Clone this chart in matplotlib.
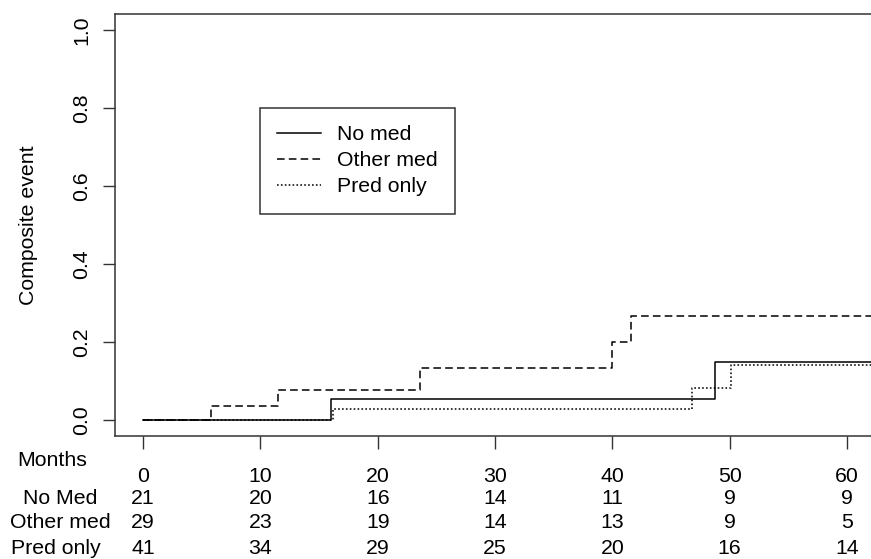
import numpy as np
import matplotlib; matplotlib.use('Agg')
import matplotlib.pyplot as plt
import matplotlib.transforms as mtransforms

plt.rcParams['font.family'] = ['Liberation Sans', 'DejaVu Sans']
plt.rcParams['lines.scale_dashes'] = False

# step curves (months, cumulative incidence)
nomed_t = [0, 16.0, 48.8, 65]
nomed_y = [0.0, 0.054, 0.149, 0.149]
other_t = [0, 5.8, 11.5, 23.6, 40.0, 41.6, 65]
other_y = [0.0, 0.036, 0.079, 0.133, 0.200, 0.267, 0.267]
pred_t = [0, 16.2, 46.8, 50.1, 65]
pred_y = [0.0, 0.030, 0.084, 0.141, 0.141]

# numbers at risk
risk_times = [0, 10, 20, 30, 40, 50, 60]
risk_nomed = [21, 20, 16, 14, 11, 9, 9]
risk_other = [29, 23, 19, 14, 13, 9, 5]
risk_pred = [41, 34, 29, 25, 20, 16, 14]

W, H = 871, 559
fig = plt.figure(figsize=(W/100, H/100), dpi=100)
ax = fig.add_axes([115/W, 123/H, 760/W, 421.6/H])
fs = 15.3
lw = 1.1
ax.step(nomed_t, nomed_y, where='post', color='black', lw=lw, ls='-', label='No med')
ax.step(other_t, other_y, where='post', color='black', lw=lw, ls=(0, (5.5, 3)), label='Other med')
ax.step(pred_t, pred_y, where='post', color='black', lw=lw, ls=(0, (1.2, 1.6)), label='Pred only')
ax.set_xlim(-2.4, 62.4)
ax.set_ylim(-0.04, 1.04)
ax.set_yticks([0, 0.2, 0.4, 0.6, 0.8, 1.0])
ax.set_yticklabels(['0.0', '0.2', '0.4', '0.6', '0.8', '1.0'])
ax.set_xticks(risk_times)
ax.set_xticklabels([])
ax.tick_params(axis='both', direction='out', length=9, width=1.0, labelsize=fs, color='#333333')
ax.tick_params(axis='y', labelrotation=90, pad=8)
for lab in ax.get_yticklabels():
    lab.set_va('center')
for s in ax.spines.values():
    s.set_linewidth(1.1)
    s.set_color('#333333')
ax.set_ylabel('Composite event', fontsize=fs)
ax.yaxis.set_label_coords(-(115-38)/760, 0.5)

leg = ax.legend(loc='upper left', bbox_to_anchor=((260-115)/760, (436-108)/421.6),
                frameon=True, fancybox=False, fontsize=fs, handlelength=2.05,
                handletextpad=0.75, borderpad=0.82, labelspacing=0.33, borderaxespad=0)
leg.get_frame().set_edgecolor('black')
leg.get_frame().set_linewidth(1.1)

# risk table
tr = mtransforms.blended_transform_factory(ax.transData, fig.transFigure)
rows = [(477, [str(t) for t in risk_times]),
        (498, risk_nomed), (523, risk_other), (548, risk_pred)]
for ypx, vals in rows:
    for t, v in zip(risk_times, vals):
        ax.text(t, 1 - ypx/H, str(v), transform=tr, ha='center', va='center', fontsize=fs, clip_on=False)
for name, xpx, ypx in [('Months', 52, 460), ('No Med', 60, 498), ('Other med', 60, 523), ('Pred only', 56, 548)]:
    fig.text(xpx/W, 1 - ypx/H, name, ha='center', va='center', fontsize=fs)

fig.savefig('out.png', dpi=100)
